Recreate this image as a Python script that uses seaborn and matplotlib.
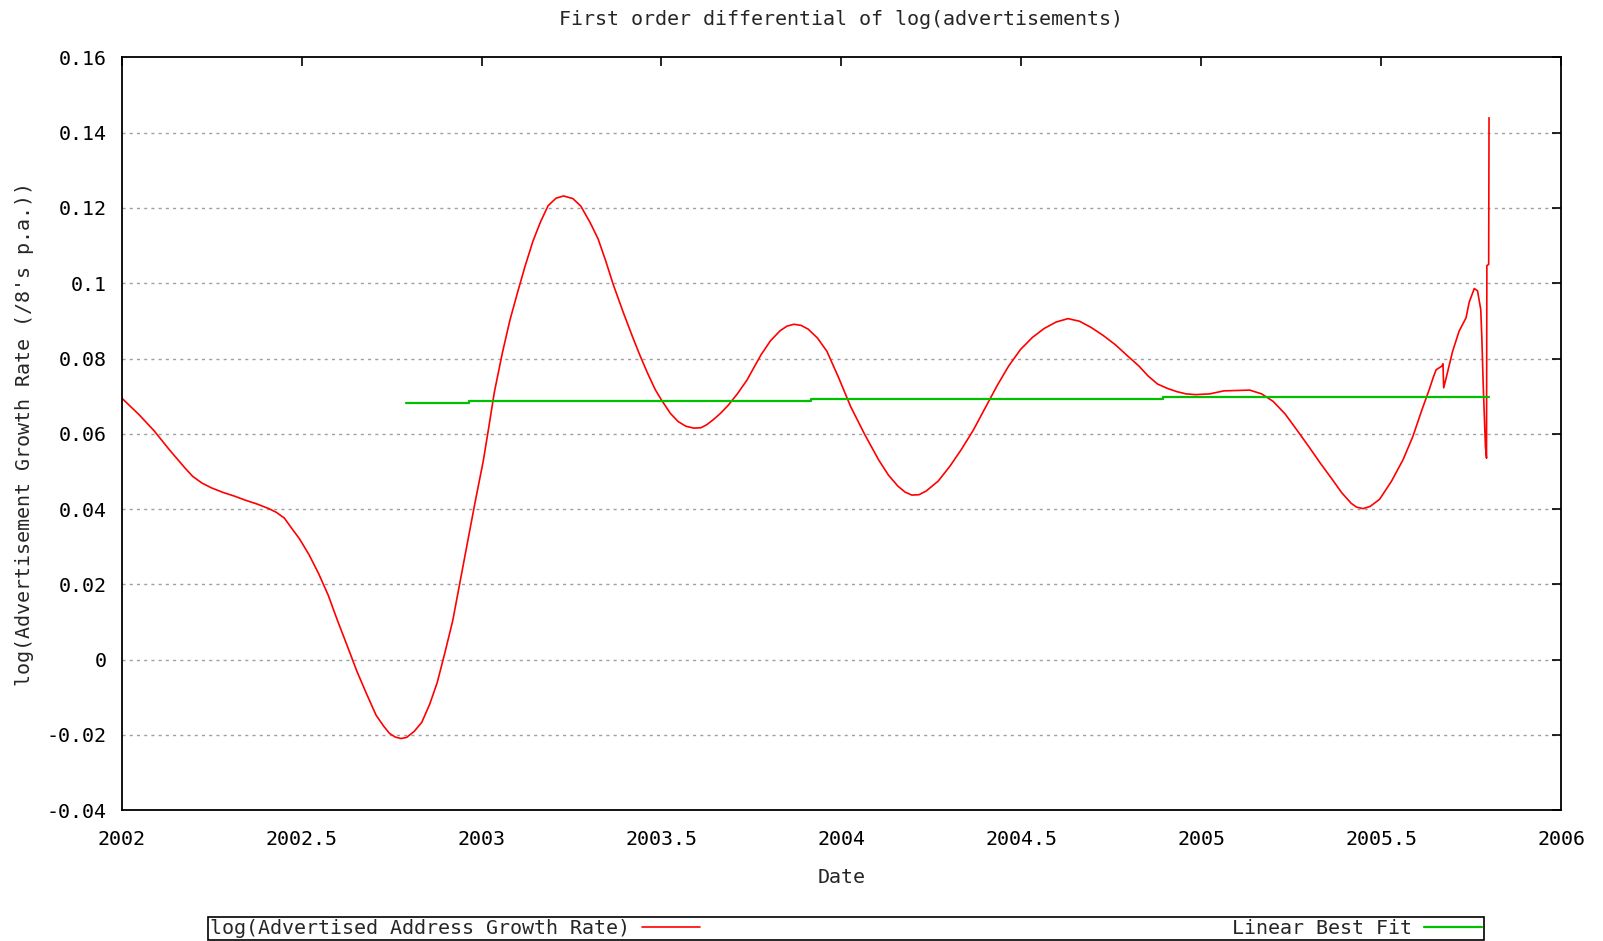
import matplotlib
matplotlib.use("Agg")
import matplotlib.pyplot as plt
import pandas as pd
import seaborn as sns

# growth rate curve
dates = [2002.000, 2002.048, 2002.090, 2002.133, 2002.175, 2002.197, 2002.223, 2002.250,
         2002.282, 2002.314, 2002.345, 2002.377, 2002.409, 2002.430, 2002.452, 2002.473,
         2002.494, 2002.521, 2002.547, 2002.574, 2002.600, 2002.627, 2002.654, 2002.680,
         2002.707, 2002.728, 2002.744, 2002.760, 2002.776, 2002.792, 2002.813, 2002.834,
         2002.856, 2002.877, 2002.898, 2002.920, 2002.941, 2002.962, 2002.983, 2003.005,
         2003.020, 2003.036, 2003.058, 2003.079, 2003.100, 2003.121, 2003.143, 2003.164,
         2003.185, 2003.207, 2003.228, 2003.254, 2003.276, 2003.302, 2003.324, 2003.345,
         2003.366, 2003.393, 2003.420, 2003.440, 2003.462, 2003.483, 2003.500, 2003.525,
         2003.547, 2003.568, 2003.590, 2003.610, 2003.626, 2003.645, 2003.665, 2003.685,
         2003.711, 2003.738, 2003.757, 2003.777, 2003.803, 2003.830, 2003.849, 2003.868,
         2003.888, 2003.908, 2003.934, 2003.960, 2003.993, 2004.026, 2004.065, 2004.104,
         2004.131, 2004.157, 2004.177, 2004.196, 2004.216, 2004.236, 2004.269, 2004.302,
         2004.334, 2004.367, 2004.400, 2004.433, 2004.465, 2004.498, 2004.531, 2004.564,
         2004.597, 2004.630, 2004.662, 2004.695, 2004.728, 2004.761, 2004.793, 2004.827,
         2004.852, 2004.879, 2004.905, 2004.932, 2004.958, 2004.984, 2005.024, 2005.063,
         2005.135, 2005.168, 2005.200, 2005.233, 2005.266, 2005.299, 2005.331, 2005.364,
         2005.390, 2005.417, 2005.432, 2005.450, 2005.470, 2005.496, 2005.529, 2005.561,
         2005.588, 2005.614, 2005.634, 2005.645, 2005.653, 2005.669, 2005.672, 2005.674,
         2005.681, 2005.699, 2005.717, 2005.736, 2005.745, 2005.759, 2005.768, 2005.777,
         2005.780, 2005.784, 2005.790, 2005.793, 2005.794, 2005.799, 2005.800]
growth = [0.0695, 0.0651, 0.0608, 0.0557, 0.0510, 0.0487, 0.0469, 0.0456,
          0.0444, 0.0434, 0.0423, 0.0413, 0.0401, 0.0391, 0.0376, 0.0348,
          0.0321, 0.0278, 0.0229, 0.0171, 0.0103, 0.0036, -0.0032, -0.0090,
          -0.0148, -0.0177, -0.0196, -0.0206, -0.0210, -0.0207, -0.0191, -0.0167,
          -0.0119, -0.0061, 0.0017, 0.0103, 0.0210, 0.0316, 0.0422, 0.0528,
          0.0616, 0.0712, 0.0815, 0.0902, 0.0975, 0.1045, 0.1112, 0.1163,
          0.1206, 0.1226, 0.1232, 0.1225, 0.1205, 0.1161, 0.1118, 0.1060,
          0.0997, 0.0925, 0.0857, 0.0809, 0.0760, 0.0717, 0.0690, 0.0654,
          0.0632, 0.0620, 0.0615, 0.0616, 0.0624, 0.0638, 0.0655, 0.0675,
          0.0706, 0.0743, 0.0776, 0.0810, 0.0847, 0.0874, 0.0886, 0.0891,
          0.0888, 0.0878, 0.0854, 0.0819, 0.0748, 0.0672, 0.0598, 0.0530,
          0.0490, 0.0461, 0.0445, 0.0437, 0.0438, 0.0448, 0.0474, 0.0514,
          0.0559, 0.0610, 0.0669, 0.0728, 0.0780, 0.0824, 0.0856, 0.0880,
          0.0897, 0.0906, 0.0899, 0.0882, 0.0861, 0.0837, 0.0809, 0.0780,
          0.0754, 0.0732, 0.0721, 0.0712, 0.0706, 0.0704, 0.0706, 0.0714,
          0.0716, 0.0706, 0.0686, 0.0653, 0.0610, 0.0566, 0.0522, 0.0479,
          0.0444, 0.0415, 0.0405, 0.0401, 0.0407, 0.0426, 0.0474, 0.0531,
          0.0592, 0.0665, 0.0718, 0.0750, 0.0770, 0.0780, 0.0786, 0.0722,
          0.0749, 0.0820, 0.0873, 0.0908, 0.0950, 0.0986, 0.0980, 0.0930,
          0.0855, 0.0725, 0.0566, 0.0535, 0.1047, 0.1050, 0.1440]

# best fit line (stepped)
fit_dates = [2002.79, 2002.966, 2003.915, 2004.895, 2005.80]
fit_values = [0.0682, 0.0688, 0.0693, 0.0698, 0.0698]

yticks = [-0.04, -0.02, 0, 0.02, 0.04, 0.06, 0.08, 0.1, 0.12, 0.14, 0.16]
ytick_labels = ["-0.04", "-0.02", "0", "0.02", "0.04", "0.06", "0.08", "0.1", "0.12", "0.14", "0.16"]
xticks = [2002, 2002.5, 2003, 2003.5, 2004, 2004.5, 2005, 2005.5, 2006]
xtick_labels = ["2002", "2002.5", "2003", "2003.5", "2004", "2004.5", "2005", "2005.5", "2006"]

sns.set_style("white")
plt.rcParams['font.family'] = ['DejaVu Sans Mono', 'DejaVu Sans']
plt.rcParams['font.size'] = 14.4

fig = plt.figure(figsize=(16.03, 9.41), dpi=100)
ax = fig.add_axes([0.0759, 0.1392, 0.8979, 0.7997])

curve = pd.DataFrame({"Date": dates, "rate": growth})
fit = pd.DataFrame({"Date": fit_dates, "rate": fit_values})

sns.lineplot(data=curve, x="Date", y="rate", sort=False, estimator=None,
             color="#ff0000", lw=1.2, ax=ax, label="log(Advertised Address Growth Rate)")
sns.lineplot(data=fit, x="Date", y="rate", sort=False, estimator=None,
             color="#00c000", lw=1.6, drawstyle="steps-post", ax=ax, label="Linear Best Fit")

ax.set_xlim(2002, 2006)
ax.set_ylim(-0.04, 0.16)
ax.set_xticks(xticks, xtick_labels)
ax.set_yticks(yticks, ytick_labels)
for y in yticks[1:-1]:
    ax.axhline(y, color="#a0a0a0", lw=1, linestyle=(0, (2.2, 3)), zorder=0)

ax.tick_params(axis="both", direction="in", length=6.5, width=1.2, color="black",
               top=True, right=True, labelsize=14.4, labelcolor="black")
ax.tick_params(axis="x", pad=14.5)
ax.tick_params(axis="y", pad=11)
for s in ax.spines.values():
    s.set_visible(True)
    s.set_color("black")
    s.set_linewidth(1.3)

ax.set_title("First order differential of log(advertisements)", fontsize=14.4, pad=23.5)
ax.set_xlabel("Date", fontsize=14.4)
ax.set_ylabel("log(Advertisement Growth Rate (/8's p.a.))", fontsize=14.4)
ax.xaxis.set_label_coords(0.5, -0.0765)
ax.yaxis.set_label_coords(-0.061, 0.5)

handles, labels = ax.get_legend_handles_labels()
ax.get_legend().remove()
leg = fig.legend(handles, labels, loc="center", bbox_to_anchor=(0.130, 0.0005, 0.796, 0.025),
                 mode="expand", ncol=2, markerfirst=False, frameon=True, fancybox=False,
                 edgecolor="black", borderpad=0.1, borderaxespad=0, handlelength=2.9,
                 handletextpad=0.6, fontsize=14.4)
leg.get_frame().set_linewidth(1.2)
leg.get_frame().set_alpha(None)

plt.savefig("out.png", dpi=100)
